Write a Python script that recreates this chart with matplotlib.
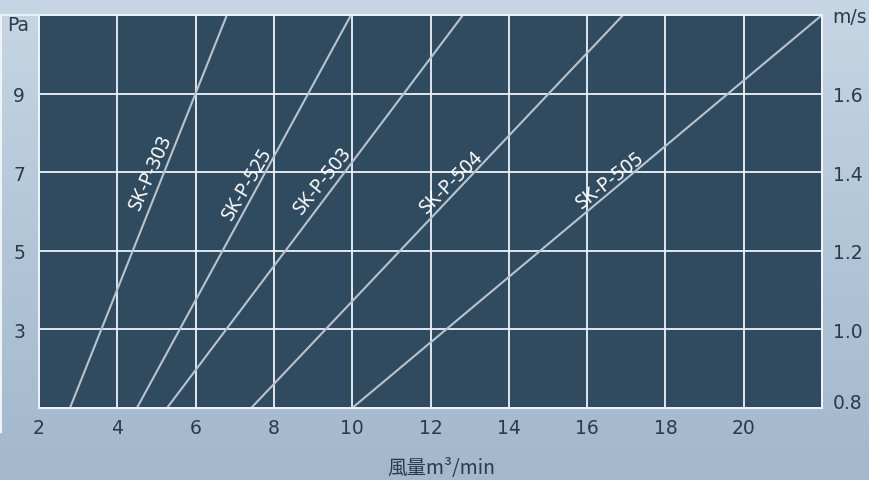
import numpy as np
import matplotlib
matplotlib.use('Agg')
import matplotlib.pyplot as plt
from matplotlib.lines import Line2D
from matplotlib.colors import LinearSegmentedColormap

# ---------------- DATA ----------------
# each model: air flow (m3/min) at 1 Pa and at 11 Pa (straight lines)
models = ['SK-P-303', 'SK-P-525', 'SK-P-503', 'SK-P-504', 'SK-P-505']
flow_at_low = [2.79, 4.50, 5.27, 7.42, 10.0]
flow_at_high = [6.80, 9.97, 12.83, 16.92, 22.0]
pa_low, pa_high = 1, 11
# label positions (flow, Pa)
label_x = [4.84, 7.31, 9.25, 12.52, 16.58]
label_y = [7.0, 6.70, 6.78, 6.75, 6.80]

x_ticks = [2, 4, 6, 8, 10, 12, 14, 16, 18, 20]
pa_ticks = [3, 5, 7, 9]
ms_ticks = [0.8, 1.0, 1.2, 1.4, 1.6]
# --------------------------------------

W, H = 869, 481
fig = plt.figure(figsize=(W / 100, H / 100), dpi=100)

# background gradient
bg = fig.add_axes([0, 0, 1, 1], zorder=-10)
cmap = LinearSegmentedColormap.from_list('bg', ['#c6d6e4', '#b3c6d8', '#a3b8cd'])
bg.imshow(np.linspace(0, 1, 256).reshape(-1, 1), aspect='auto', cmap=cmap,
          extent=[0, 1, 0, 1])
bg.axis('off')

ax = fig.add_axes([39 / W, 1 - 409 / H, (822 - 39) / W, (409 - 16) / H])
ax.set_facecolor('#304a5f')
ax.set_xlim(2, 22)
ax.set_ylim(pa_low, pa_high)

ax.set_xticks(x_ticks)
ax.set_yticks(pa_ticks)
ax.tick_params(length=0, labelsize=13.5, colors='#2a3a4a')
ax.tick_params(axis='x', pad=7)
ax.tick_params(axis='y', pad=10)
for s in ax.spines.values():
    s.set_color('#eef3f8')
    s.set_linewidth(1.3)

for v in x_ticks[1:]:
    ax.axvline(v, color='#eef3f8', lw=1.3, zorder=1)
for v in pa_ticks:
    ax.axhline(v, color='#eef3f8', lw=1.3, zorder=1)

for i, name in enumerate(models):
    ax.plot([flow_at_low[i], flow_at_high[i]], [pa_low, pa_high],
            color='#b9c3cd', lw=1.5, zorder=2, clip_on=True)

# rotate labels along their lines
fig.canvas.draw()
for i, name in enumerate(models):
    p0 = ax.transData.transform((flow_at_low[i], pa_low))
    p1 = ax.transData.transform((flow_at_high[i], pa_high))
    ang = np.degrees(np.arctan2(p1[1] - p0[1], p1[0] - p0[0]))
    ax.text(label_x[i], label_y[i], name, rotation=ang - 2, rotation_mode='anchor',
            ha='center', va='center', color='white', fontsize=14,
            family='Noto Sans', zorder=3)

# right axis
ax2 = ax.twinx()
ax2.set_ylim(0.8, 1.8)
ax2.set_yticks(ms_ticks)
ax2.set_yticklabels([f'{v:.1f}' for v in ms_ticks])
ax2.tick_params(length=0, labelsize=13.5, colors='#2a3a4a', pad=8)
ax2.get_yticklabels()[0].set_va('baseline')
for s in ax2.spines.values():
    s.set_color('#eef3f8')
    s.set_linewidth(1.3)

ax.text(-0.012, 1.0, 'Pa', transform=ax.transAxes, ha='right', va='top',
        fontsize=13.5, color='#2a3a4a')
ax.text(1.013, 1.02, 'm/s', transform=ax.transAxes, ha='left', va='top',
        fontsize=13.5, color='#2a3a4a')

fig.text(441 / W, 1 - 469 / H, '風量m³/min', ha='center', va='center',
         fontsize=14, color='#2a3a4a', family=['Noto Sans CJK JP', 'DejaVu Sans'])

# thin white frame at left
fig.add_artist(Line2D([1 / W, 1 / W], [1 - 16 / H, 1 - 433 / H], color='#eef3f8',
                      lw=1.5, transform=fig.transFigure))
fig.add_artist(Line2D([0, 39 / W], [1 - 16 / H, 1 - 16 / H], color='#eef3f8',
                      lw=1.3, transform=fig.transFigure))

fig.savefig('out.png', dpi=100)
